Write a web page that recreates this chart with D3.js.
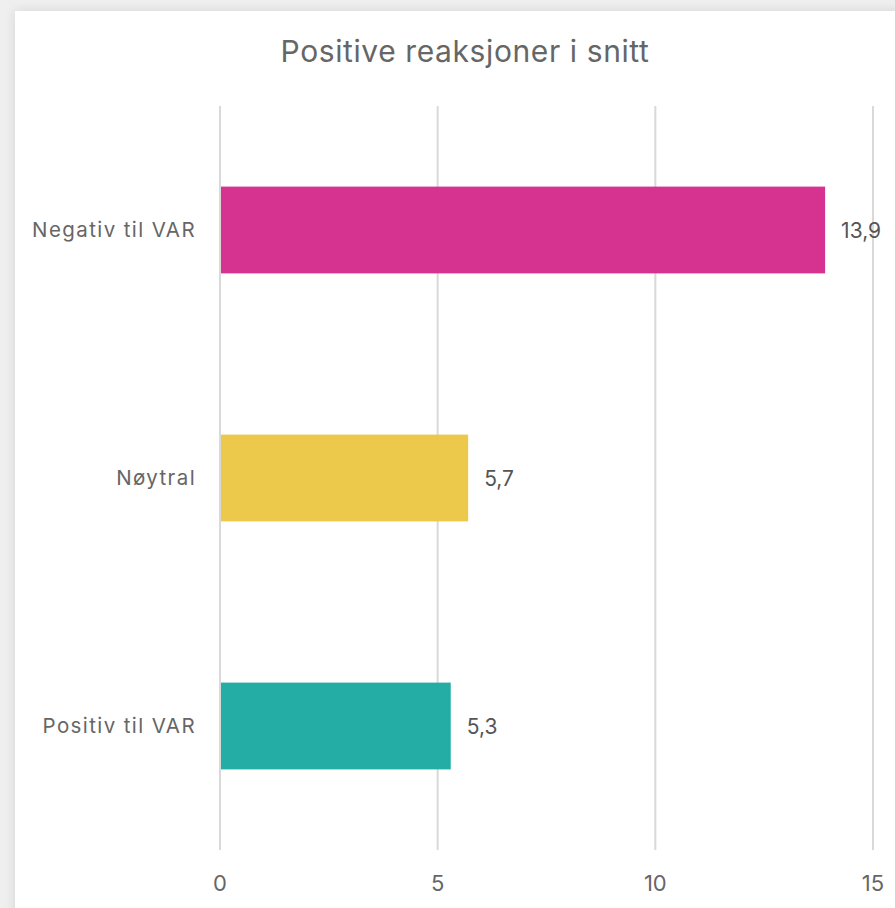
<!DOCTYPE html>
<html>
<head>
<meta charset="utf-8">
<script src="https://cdn.jsdelivr.net/npm/d3@7"></script>
<style>
  html, body { margin: 0; padding: 0; background: #efefef; }
  #chart { position: absolute; left: 0; top: 0; }
</style>
</head>
<body>
<div id="chart"></div>
<script>
// data
var categories = ["Negativ til VAR", "Nøytral", "Positiv til VAR"],
    values = [13.9, 5.7, 5.3],
    colors = ["#d5338f", "#ecc94a", "#24ada5"],
    xTicks = [0, 5, 10, 15],
    title = "Positive reaksjoner i snitt";

var width = 895,
    height = 908,
    font = "Inter, 'Open Sans', sans-serif",
    textColor = "#666";

var svg = d3.select("#chart").append("svg")
    .attr("width", width)
    .attr("height", height);

// card with soft shadow
var defs = svg.append("defs");
var blur = defs.append("filter").attr("id", "shadow")
    .attr("x", "-10%").attr("y", "-10%").attr("width", "120%").attr("height", "120%");
blur.append("feGaussianBlur").attr("in", "SourceAlpha").attr("stdDeviation", 6);
blur.append("feComponentTransfer").append("feFuncA").attr("type", "linear").attr("slope", 0.12);
var merge = blur.append("feMerge");
merge.append("feMergeNode");
merge.append("feMergeNode").attr("in", "SourceGraphic");

svg.append("rect")
    .attr("x", 15).attr("y", 11)
    .attr("width", width).attr("height", height)
    .attr("fill", "#fff")
    .attr("filter", "url(#shadow)");

var x = d3.scaleLinear()
    .domain([0, 15])
    .range([220, 873]);

var y = d3.scaleBand()
    .domain(categories)
    .range([106, 850])
    .paddingInner(0.65)
    .paddingOuter(0.325);

svg.append("text")
    .attr("x", 465).attr("y", 62)
    .attr("text-anchor", "middle")
    .style("font-family", font)
    .style("font-size", "30px")
    .style("letter-spacing", "0.6px")
    .attr("fill", textColor)
    .text(title);

// vertical grid lines
svg.append("g").selectAll("line")
    .data(xTicks)
  .enter().append("line")
    .attr("x1", function(d) { return x(d); })
    .attr("x2", function(d) { return x(d); })
    .attr("y1", 106)
    .attr("y2", 850)
    .attr("stroke", "#d9d9d9")
    .attr("stroke-width", 2);

// x tick labels
svg.append("g").selectAll("text")
    .data(xTicks)
  .enter().append("text")
    .attr("x", function(d) { return x(d); })
    .attr("y", 891)
    .attr("text-anchor", "middle")
    .style("font-family", font)
    .style("font-size", "22px")
    .attr("fill", textColor)
    .text(function(d) { return d; });

// bars
svg.append("g").selectAll("rect")
    .data(values)
  .enter().append("rect")
    .attr("x", x(0) + 1)
    .attr("y", function(d, i) { return y(categories[i]); })
    .attr("width", function(d) { return x(d) - x(0) - 1; })
    .attr("height", y.bandwidth())
    .attr("fill", function(d, i) { return colors[i]; });

// category labels
svg.append("g").selectAll("text")
    .data(categories)
  .enter().append("text")
    .attr("x", 196)
    .attr("y", function(d) { return y(d) + y.bandwidth() / 2; })
    .attr("dy", "0.36em")
    .attr("text-anchor", "end")
    .style("font-family", font)
    .style("font-size", "20.5px")
    .style("letter-spacing", "1.4px")
    .attr("fill", textColor)
    .text(function(d) { return d; });

// value labels
var fmt = function(v) { return v.toFixed(1).replace(".", ","); };
svg.append("g").selectAll("text")
    .data(values)
  .enter().append("text")
    .attr("x", function(d) { return x(d) + 16; })
    .attr("y", function(d, i) { return y(categories[i]) + y.bandwidth() / 2; })
    .attr("dy", "0.36em")
    .style("font-family", font)
    .style("font-size", "21px")
    .attr("fill", "#555")
    .text(fmt);
</script>
</body>
</html>
